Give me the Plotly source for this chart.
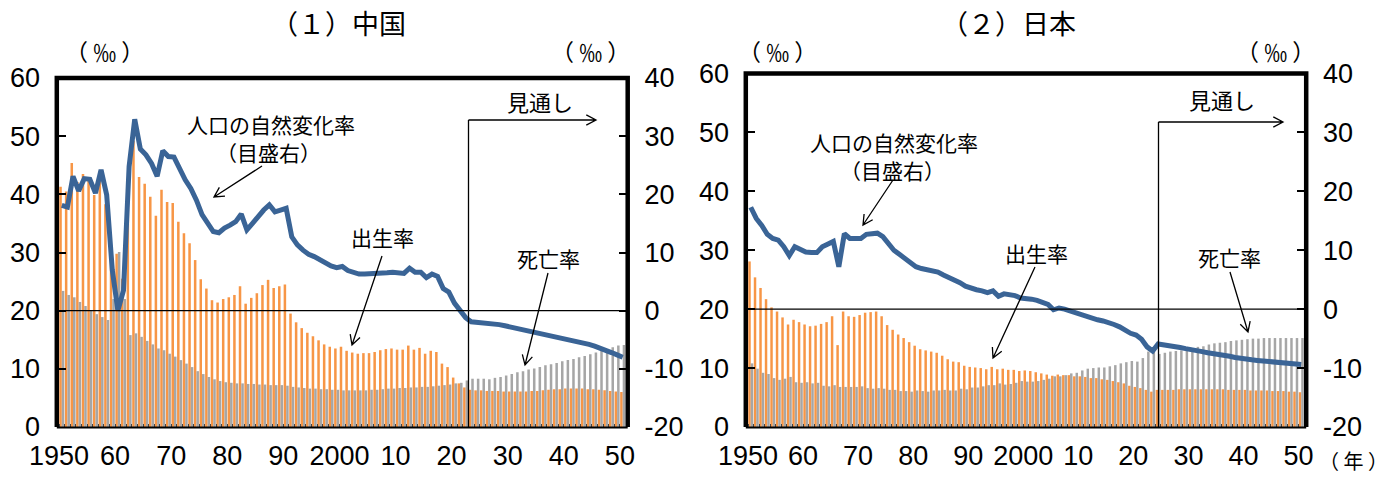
import math
import plotly.graph_objects as go

W, H = 1392, 477

years = list(range(1950, 2051))
x_tick_vals = [1949.5 + 10 * i for i in range(11)]
x_tick_text = ["1950", "60", "70", "80", "90", "2000", "10", "20", "30", "40", "50"]
left_tick_vals = [0, 10, 20, 30, 40, 50, 60]
left_tick_text = ["0", "10", "20", "30", "40", "50", "60"]
right_tick_vals = [-20, -10, 0, 10, 20, 30, 40]
right_tick_text = ["-20", "-10", "0", "10", "20", "30", "40"]

# ---------------- China (per mille) ----------------
cn_birth = [
    41.3, 40.5, 45.4, 42.1, 43.5, 42.7, 39.9, 43.1, 38.3, 29.0,
    29.8, 25.5, 40.6, 49.2, 43.0, 41.8, 39.6, 36.3, 40.8, 38.7,
    38.5, 35.3, 33.3, 31.6, 28.7, 25.4, 23.8, 21.8, 21.4, 22.0,
    22.3, 22.7, 24.2, 21.2, 22.2, 23.0, 24.4, 25.3, 23.9, 24.2,
    24.5, 19.5, 18.0, 17.0, 16.2, 15.6, 14.9, 14.2, 13.8, 13.5,
    13.8, 13.1, 12.8, 12.6, 12.7, 12.7, 12.9, 13.2, 13.4, 13.5,
    13.3, 13.3, 14.0, 13.3, 13.6, 12.6, 13.1, 12.9, 10.9, 10.3,
    8.5, 7.5, 6.8, 6.4, 6.3, 6.3, 6.2, 6.2, 6.2, 6.1,
    6.1, 6.1, 6.1, 6.1, 6.2, 6.2, 6.3, 6.4, 6.5, 6.5,
    6.6, 6.6, 6.6, 6.6, 6.5, 6.5, 6.4, 6.3, 6.2, 6.1,
    6.0,
]
cn_death = [
    23.4, 22.7, 22.3, 21.5, 20.8, 20.1, 19.4, 18.9, 18.4, 22.0,
    30.1, 22.0, 15.8, 16.1, 15.5, 14.8, 14.2, 13.5, 13.2, 12.6,
    12.1, 11.5, 10.9, 10.3, 9.6, 9.1, 8.6, 8.2, 7.9, 7.7,
    7.6, 7.5, 7.5, 7.4, 7.4, 7.3, 7.3, 7.2, 7.2, 7.2,
    7.1, 6.9, 6.8, 6.7, 6.6, 6.6, 6.5, 6.5, 6.4, 6.4,
    6.3, 6.3, 6.3, 6.3, 6.3, 6.4, 6.4, 6.5, 6.6, 6.6,
    6.7, 6.7, 6.8, 6.8, 6.9, 6.9, 7.0, 7.1, 7.2, 7.3,
    7.5, 7.6, 8.0, 8.3, 8.3, 8.3, 8.2, 8.45, 8.6, 8.85,
    9.1, 9.4, 9.6, 9.9, 10.05, 10.3, 10.6, 10.8, 11.0, 11.3,
    11.5, 11.7, 12.0, 12.2, 12.5, 12.8, 13.1, 13.4, 13.7, 14.0,
    14.1,
]
cn_natural = [
    18.1, 17.8, 23.1, 20.6, 22.7, 22.6, 20.2, 24.2, 19.9, 7.0,
    0.0, 3.5, 24.8, 32.9, 27.8, 26.8, 25.3, 23.1, 27.5, 26.5,
    26.4, 24.2, 22.5, 21.0, 19.0, 16.5, 15.0, 13.6, 13.4, 14.2,
    14.7, 15.3, 16.6, 13.9, 15.0, 16.2, 17.3, 18.2, 17.0, 17.3,
    17.6, 12.7, 11.3, 10.4, 9.7, 9.3, 8.7, 8.2, 7.7, 7.4,
    7.6, 6.9, 6.5, 6.3, 6.3, 6.3, 6.3, 6.4, 6.5, 6.6,
    6.6, 6.4, 7.3, 6.6, 6.6, 5.7, 6.3, 5.9, 3.8, 3.2,
    1.3, -0.1, -1.2, -1.9, -2.0, -2.0, -2.0, -2.2, -2.4, -2.6,
    -2.8, -3.0, -3.2, -3.4, -3.6, -3.8, -4.0, -4.2, -4.4, -4.6,
    -4.8, -5.0, -5.2, -5.5, -5.8, -6.1, -6.4, -6.8, -7.2, -7.6,
    -8.0,
]

# ---------------- Japan (per mille) ----------------
jp_birth = [
    28.1, 25.4, 23.6, 21.7, 20.3, 19.6, 18.6, 17.4, 18.2, 17.8,
    17.4, 17.1, 17.2, 17.5, 17.8, 18.8, 13.9, 19.6, 18.8, 18.7,
    19.0, 19.4, 19.5, 19.6, 18.8, 17.3, 16.5, 15.7, 15.1, 14.4,
    13.8, 13.2, 13.0, 12.8, 12.6, 12.1, 11.5, 11.1, 11.0, 10.4,
    10.2, 10.1, 10.0, 9.8, 10.2, 9.8, 9.9, 9.7, 9.7, 9.5,
    9.6, 9.5, 9.3, 9.1, 8.9, 8.7, 8.9, 8.8, 8.8, 8.6,
    8.6, 8.5, 8.3, 8.3, 8.1, 8.0, 7.8, 7.6, 7.4, 7.0,
    6.8, 6.6, 6.3, 6.0, 6.3, 6.3, 6.3, 6.3, 6.4, 6.4,
    6.4, 6.4, 6.4, 6.4, 6.4, 6.4, 6.4, 6.3, 6.3, 6.3,
    6.3, 6.2, 6.2, 6.2, 6.2, 6.1, 6.1, 6.1, 6.0, 6.0,
    5.9,
]
jp_death = [
    10.8, 9.9, 9.2, 9.0, 8.3, 8.0, 8.2, 8.5, 7.6, 7.5,
    7.6, 7.4, 7.5, 7.0, 6.9, 7.1, 6.8, 6.8, 6.8, 6.8,
    6.9, 6.6, 6.5, 6.6, 6.5, 6.3, 6.3, 6.1, 6.1, 6.0,
    6.2, 6.1, 6.0, 6.2, 6.2, 6.3, 6.2, 6.2, 6.5, 6.4,
    6.7, 6.7, 6.9, 7.1, 7.1, 7.4, 7.2, 7.3, 7.5, 7.8,
    7.7, 7.7, 7.8, 8.0, 8.2, 8.6, 8.6, 8.8, 9.1, 9.2,
    9.6, 9.9, 10.0, 10.1, 10.1, 10.3, 10.5, 10.8, 11.0, 11.2,
    11.1, 11.7, 12.8, 13.2, 12.4, 12.6, 12.8, 12.9, 13.0, 13.1,
    13.3, 13.6, 13.7, 14.0, 14.2, 14.3, 14.4, 14.6, 14.7, 14.8,
    14.9, 15.0, 15.0, 15.1, 15.1, 15.1, 15.1, 15.1, 15.1, 15.1,
    15.1,
]
jp_natural = [
    17.3, 15.4, 14.2, 12.7, 12.0, 11.7, 10.6, 9.1, 10.6, 10.1,
    9.7, 9.6, 9.6, 10.6, 11.0, 11.5, 7.2, 12.8, 12.0, 11.9,
    12.0, 12.7, 12.9, 12.9, 12.3, 11.0, 10.0, 9.3, 8.6, 8.0,
    7.2, 6.9, 6.7, 6.6, 6.3, 5.8, 5.4, 5.0, 4.5, 3.9,
    3.5, 3.3, 3.1, 2.8, 3.1, 2.2, 2.6, 2.5, 2.3, 1.9,
    1.9, 1.7, 1.5, 1.1, 0.8, -0.1, 0.2, 0.0, -0.3, -0.6,
    -0.9, -1.4, -1.6, -1.8, -2.0, -2.2, -2.6, -3.0, -3.6, -4.1,
    -4.4, -5.1, -6.4, -7.1, -5.9, -6.0, -6.2, -6.3, -6.5, -6.7,
    -6.8, -7.0, -7.2, -7.4, -7.5, -7.7, -7.9, -8.0, -8.2, -8.4,
    -8.5, -8.6, -8.7, -8.8, -8.9, -9.0, -9.1, -9.2, -9.2, -9.3,
    -9.4,
]

for arr in (cn_birth, cn_death, cn_natural, jp_birth, jp_death, jp_natural):
    assert len(arr) == len(years)

ORANGE = "#F79646"
GRAY = "#A6A6A6"
BLUE = "#3A6496"
NUM_FONT = "Liberation Sans Narrow, Liberation Sans, Arial, sans-serif"
JP_FONT = "Noto Sans CJK JP, sans-serif"

fig = go.Figure()
# China
fig.add_trace(go.Bar(x=years, y=cn_birth, xaxis="x", yaxis="y", marker=dict(color=ORANGE, line=dict(width=0)), name="出生率"))
fig.add_trace(go.Bar(x=years, y=cn_death, xaxis="x", yaxis="y", marker=dict(color=GRAY, line=dict(width=0)), name="死亡率"))
fig.add_trace(go.Scatter(x=years, y=cn_natural, xaxis="x", yaxis="y2", mode="lines",
                         line=dict(color=BLUE, width=5), name="人口の自然変化率"))
# Japan
fig.add_trace(go.Bar(x=years, y=jp_birth, xaxis="x2", yaxis="y3", marker=dict(color=ORANGE, line=dict(width=0)), name="出生率"))
fig.add_trace(go.Bar(x=years, y=jp_death, xaxis="x2", yaxis="y3", marker=dict(color=GRAY, line=dict(width=0)), name="死亡率"))
fig.add_trace(go.Scatter(x=years, y=jp_natural, xaxis="x2", yaxis="y4", mode="lines",
                         line=dict(color=BLUE, width=5), name="人口の自然変化率"))

# plot-area pixel boxes (inner area where the bars live)
CN = dict(l=59, r=625.5, t=78, b=427)
JP = dict(l=748, r=1304, t=73.5, b=427)


def xdom(b):
    return [b["l"] / W, b["r"] / W]


def ydom(b):
    return [1 - b["b"] / H, 1 - b["t"] / H]


num_font = dict(family=NUM_FONT, size=27, color="black")

xcommon = dict(range=[1949.5, 2050.5], tickvals=x_tick_vals, ticktext=x_tick_text, tickfont=num_font,
               showgrid=False, zeroline=False, showline=False, ticks="", ticklabelstandoff=10,
               automargin=False, fixedrange=True,
               minor=dict(ticks="inside", tickvals=[y - 0.5 for y in years], ticklen=3, tickcolor="#444", tickwidth=1))
ycommon_left = dict(range=[0, 60], tickvals=left_tick_vals, ticktext=left_tick_text, tickfont=num_font,
                    showgrid=False, zeroline=False, showline=False, ticks="inside", ticklen=7,
                    tickcolor="black", tickwidth=1.5, ticklabelstandoff=18, automargin=False)
ycommon_right = dict(range=[-20, 40], tickvals=right_tick_vals, ticktext=right_tick_text, tickfont=num_font,
                     showgrid=False, zeroline=False, showline=False, ticks="inside", ticklen=7,
                     tickcolor="black", tickwidth=1.5, ticklabelstandoff=18, automargin=False, side="right")

fig.update_layout(
    width=W, height=H, autosize=False,
    margin=dict(l=0, r=0, t=0, b=0),
    paper_bgcolor="white", plot_bgcolor="white",
    showlegend=False,
    barmode="group", bargap=0.1, bargroupgap=0.0,
    xaxis=dict(domain=xdom(CN), anchor="y", **xcommon),
    yaxis=dict(domain=ydom(CN), anchor="x", **ycommon_left),
    yaxis2=dict(overlaying="y", anchor="x", **ycommon_right),
    xaxis2=dict(domain=xdom(JP), anchor="y3", **xcommon),
    yaxis3=dict(domain=ydom(JP), anchor="x2", **ycommon_left),
    yaxis4=dict(overlaying="y3", anchor="x2", **ycommon_right),
)


def P(x, y):
    return x / W, 1 - y / H


shapes = []
# plot frames: thick top/left/right drawn just outside the bar area, thinner bottom
for b in (CN, JP):
    l, r, t, bt = b["l"] - 2.2, b["r"] + 2.2, b["t"], b["b"]
    q = [P(l, bt), P(l, t), P(r, t), P(r, bt)]
    path = " ".join(("M" if i == 0 else "L") + f" {p[0]},{p[1]}" for i, p in enumerate(q))
    shapes.append(dict(type="path", xref="paper", yref="paper", path=path,
                       line=dict(color="black", width=4.5), layer="above"))
    a, c = P(l, bt + 0.5), P(r, bt + 0.5)
    shapes.append(dict(type="line", xref="paper", yref="paper", x0=a[0], y0=a[1], x1=c[0], y1=c[1],
                       line=dict(color="black", width=2), layer="above"))
# zero line of the right axis
for xr, yr in (("x", "y2"), ("x2", "y4")):
    shapes.append(dict(type="line", xref=f"{xr} domain", yref=yr, x0=0, x1=1, y0=0, y1=0,
                       line=dict(color="black", width=1.2), layer="above"))


def arrow_shape(x0, y0, x1, y1, head=11, ang=28):
    dx, dy = x1 - x0, y1 - y0
    L = math.hypot(dx, dy)
    ux, uy = dx / L, dy / L
    a = math.radians(ang)
    hp = []
    for s in (1, -1):
        ca, sa = math.cos(s * a), math.sin(s * a)
        rx = -(ux * ca - uy * sa)
        ry = -(ux * sa + uy * ca)
        hp.append((x1 + head * rx, y1 + head * ry))
    pts = [(x0, y0), (x1, y1), hp[0], hp[1]]
    q = [P(*p) for p in pts]
    path = (f"M {q[0][0]},{q[0][1]} L {q[1][0]},{q[1][1]} "
            f"M {q[2][0]},{q[2][1]} L {q[1][0]},{q[1][1]} L {q[3][0]},{q[3][1]}")
    return dict(type="path", xref="paper", yref="paper", path=path,
                line=dict(color="black", width=1.3), layer="above")


def line_shape(x0, y0, x1, y1, w=1.3):
    a, b = P(x0, y0)
    c, d = P(x1, y1)
    return dict(type="line", xref="paper", yref="paper", x0=a, y0=b, x1=c, y1=d,
                line=dict(color="black", width=w), layer="above")


# China annotation graphics
shapes.append(arrow_shape(262, 166, 214, 197))
shapes.append(arrow_shape(382, 256, 352, 345))
shapes.append(arrow_shape(548, 273, 525, 365))
shapes.append(line_shape(468.5, 120, 468.5, 427))
shapes.append(arrow_shape(468.5, 120, 596, 120))
# Japan annotation graphics
shapes.append(arrow_shape(893, 180, 863, 225))
shapes.append(arrow_shape(1035, 267, 993, 358))
shapes.append(arrow_shape(1230, 272, 1248, 332))
shapes.append(line_shape(1158.5, 122, 1158.5, 427))
shapes.append(arrow_shape(1158.5, 122, 1283, 122))

fig.update_layout(shapes=shapes)

annos = []


def text(x, y, s, size=21, family=JP_FONT):
    px, py = P(x, y)
    annos.append(dict(x=px, y=py, xref="paper", yref="paper", text=s, showarrow=False,
                      xanchor="center", yanchor="middle", font=dict(family=family, size=size, color="black")))


text(338, 22, "（１）中国", size=27)
text(1008, 22, "（２）日本", size=27)
text(104, 51, "（ ‰ ）", size=23)
text(590, 51, "（ ‰ ）", size=23)
text(777, 51, "（ ‰ ）", size=23)
text(1275, 51, "（ ‰ ）", size=23)
text(271, 124, "人口の自然変化率")
text(268, 152, "（目盛右）")
text(382, 237, "出生率")
text(548, 258, "死亡率")
text(540, 101, "見通し", size=22)
text(894, 142, "人口の自然変化率")
text(893, 170, "（目盛右）")
text(1036, 253, "出生率")
text(1229, 257, "死亡率")
text(1222, 99, "見通し", size=22)
text(1353, 460, "（ 年 ）", size=20)

fig.update_layout(annotations=annos)

post = (
    "document.body.style.margin='0';document.body.style.overflow='hidden';"
)
fig.write_html("out.html", post_script=post, config={"displayModeBar": False})
